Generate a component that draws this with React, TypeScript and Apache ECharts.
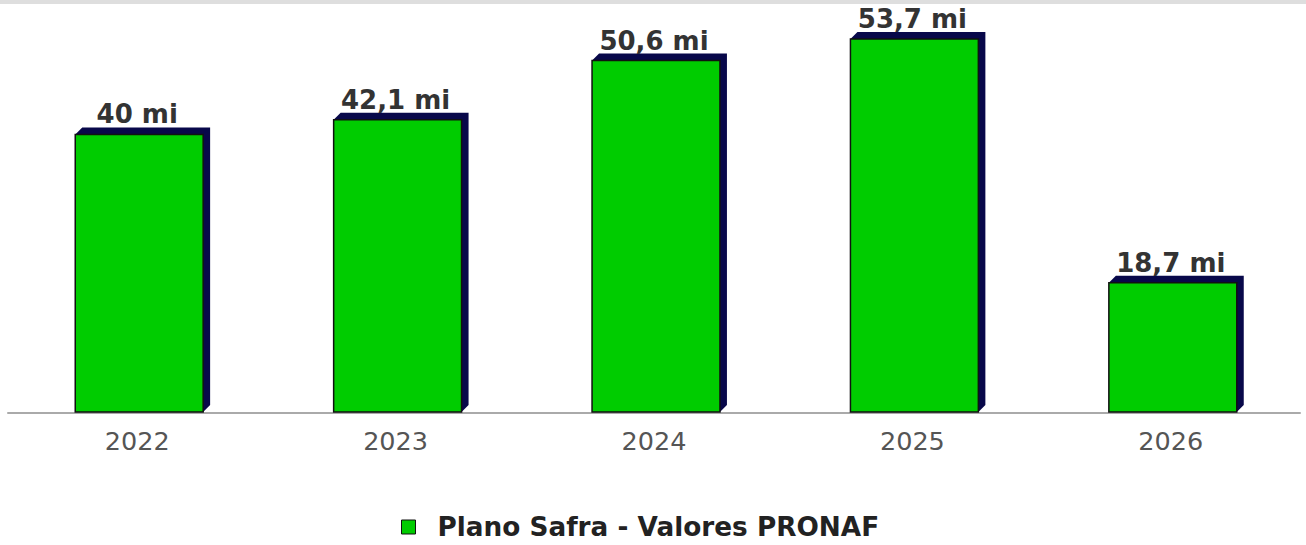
import React, { useEffect, useRef } from "react";
import * as echarts from "echarts";

const categories = ["2022", "2023", "2024", "2025", "2026"];
const values = [40, 42.1, 50.6, 53.7, 18.7];
const seriesName = "Plano Safra - Valores PRONAF";

const fmt = (v: number) => String(v).replace(".", ",") + " mi";

export default function App() {
  const ref = useRef<HTMLDivElement>(null);
  useEffect(() => {
    if (!ref.current) return;
    const chart = echarts.init(ref.current, null, { renderer: "svg" });
    const depth = 7;
    chart.setOption({
      animation: false,
      backgroundColor: "#ffffff",
      graphic: [
        { type: "rect", left: 0, top: 0, shape: { x: 0, y: 0, width: 1306, height: 4 }, style: { fill: "#dedede" }, silent: true },
      ],
      grid: { left: 8, right: 6, top: 23, bottom: 132, containLabel: false },
      legend: {
        data: [seriesName],
        left: 401,
        top: 514,
        padding: 0,
        icon: "rect",
        itemWidth: 14,
        itemHeight: 14,
        itemStyle: { color: "#00cc00", borderColor: "#111111", borderWidth: 1 },
        textStyle: {
          fontFamily: "DejaVu Sans",
          fontWeight: "bold",
          fontSize: 26.3,
          color: "#222222",
          padding: [0, 0, 0, 17],
        },
      },
      xAxis: {
        type: "category",
        data: categories,
        axisTick: { show: false },
        axisLine: { lineStyle: { color: "#aaaaaa", width: 2 } },
        axisLabel: { fontFamily: "DejaVu Sans", fontSize: 25.5, color: "#555555", margin: 15 },
      },
      yAxis: {
        type: "value",
        min: 0,
        max: 56,
        show: false,
        splitLine: { show: false },
      },
      series: [
        {
          name: seriesName,
          type: "custom",
          itemStyle: { color: "#00cc00" },
          data: values.map((v, i) => [i, v]),
          renderItem: (params: any, api: any) => {
            const idx = api.value(0);
            const v = api.value(1);
            const base = api.coord([idx, 0]);
            const top = api.coord([idx, v]);
            const bw = api.size([1, 0])[0] * 0.495;
            const cx = top[0] + 2;
            const x0 = cx - bw / 2;
            const x1 = cx + bw / 2;
            const by = base[1] - 1;
            return {
              type: "group",
              children: [
                {
                  type: "polygon",
                  shape: {
                    points: [
                      [x0, top[1]],
                      [x0 + depth, top[1] - depth],
                      [x1 + depth, top[1] - depth],
                      [x1 + depth, by - depth],
                      [x1, by],
                    ],
                  },
                  style: { fill: "#08084a" },
                },
                {
                  type: "rect",
                  shape: { x: x0, y: top[1], width: bw, height: by - top[1] },
                  style: { fill: "#00cc00", stroke: "#111111", lineWidth: 1.5 },
                },
                {
                  type: "text",
                  x: top[0],
                  y: top[1] - depth,
                  style: {
                    text: fmt(values[idx]),
                    font: 'bold 26px "DejaVu Sans"',
                    fill: "#333333",
                    align: "center",
                    verticalAlign: "bottom",
                  },
                },
              ],
            };
          },
        },
      ],
    });
    return () => chart.dispose();
  }, []);
  return (
    <div
      ref={ref}
      style={{ position: "absolute", left: 0, top: 0, width: 1306, height: 545 }}
    />
  );
}
